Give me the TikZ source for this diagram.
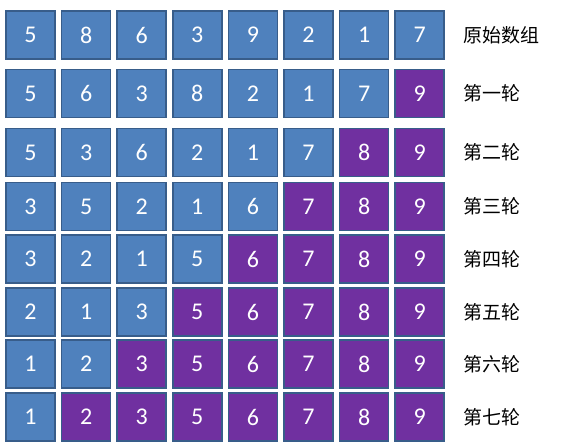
\documentclass[tikz,border=0pt]{standalone}
\usepackage{fontspec}
\setmainfont{Carlito}
\newfontfamily\cjk{Noto Sans CJK SC}
\usetikzlibrary{positioning}
\definecolor{cellblue}{HTML}{4F81BD}
\definecolor{cellpurple}{HTML}{7030A0}
\definecolor{celledge}{HTML}{385D8A}
\tikzset{
  todobox/.style={draw=celledge, line width=1.6pt, fill=cellblue, minimum width=49pt,
                  minimum height=48pt, inner sep=0pt, text=white, font=\fontsize{24}{26}\selectfont},
  donebox/.style={todobox, fill=cellpurple},
  roundlabel/.style={anchor=west, inner sep=0pt, font=\cjk\fontsize{19}{21}\selectfont}}

\begin{document}
\begin{tikzpicture}[x=1pt, y=-1pt]
  \useasboundingbox (0,0) rectangle (569,445);
  % one row per pass: row / centre y / sorted count / values / label
  \foreach \r/\y/\k/\vals/\lab in {
      1/35/0/{5,8,6,3,9,2,1,7}/原始数组,
      2/93.5/1/{5,6,3,8,2,1,7,9}/第一轮,
      3/152.5/2/{5,3,6,2,1,7,8,9}/第二轮,
      4/206.5/3/{3,5,2,1,6,7,8,9}/第三轮,
      5/259/4/{3,2,1,5,6,7,8,9}/第四轮,
      6/312/5/{2,1,3,5,6,7,8,9}/第五轮,
      7/364/6/{1,2,3,5,6,7,8,9}/第六轮,
      8/417/7/{1,2,3,5,6,7,8,9}/第七轮}{
    \foreach \v [count=\i] in \vals {
      \ifnum\i>\numexpr8-\k\relax\def\sty{donebox}\else\def\sty{todobox}\fi
      \node[\sty] (c-\r-\i) at ({30.5+55.6*(\i-1)},\y) {\v};
    }
    \node[roundlabel] (lab-\r) at (463,\y) {\lab};
  }
\end{tikzpicture}
\end{document}
